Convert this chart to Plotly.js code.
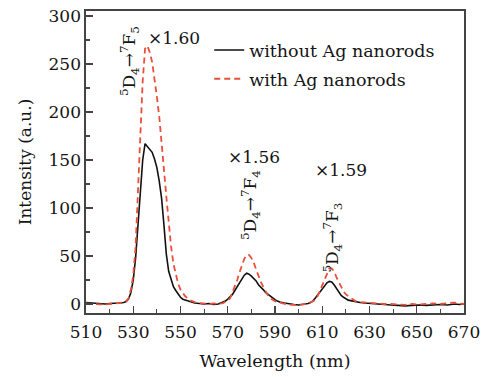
<!DOCTYPE html>
<html>
<head>
<meta charset="utf-8">
<script src="https://cdn.plot.ly/plotly-3.0.1.min.js"></script>
<style>html,body{margin:0;padding:0;background:#fff;}#chart{width:484px;height:377px;}</style>
</head>
<body>
<div id="chart"></div>
<script>
const wavelength = [510,512,514,516,518,520,522,524,526,
527,528,529,530,531,532,533,534,535,536,537,538,539,540,541,542,543,544,545,546,547,548,549,550,551,
552,554,556,558,560,562,564,566,568,
569,570,571,572,573,574,575,576,577,578,579,580,581,582,583,584,585,586,587,588,589,590,591,
592,594,596,598,600,602,604,
605,606,607,608,609,610,611,612,613,614,615,616,617,618,619,620,621,622,623,
624,626,628,630,
633,636,639,642,645,648,651,654,657,660,663,666,
668,670];

const withoutAg = [1.5,1,0.5,0.5,0,0.5,0.5,1,1.5,
2.5,5,12,25,48,82,118,150,167,164,161,158,151,142,128,110,82,52,34,25,18,14,10,7,5,
4,2.5,1,0.5,0,0.5,-0.5,0,1.5,
3,5,7,10,14,18,22,26,30,32,31,29,27,24,20,18,15,12,10,8,6,4.5,3,
2,1,0,-0.5,-1,-0.5,0.5,
1.5,3,6,9,12,16,19,22,23.5,23,20,16,12,9,7,5,4,3.5,3,
2,1.5,1,0.5,
0,-0.5,-1,-1.5,-2,-1.5,-1,-1.5,-1,-0.5,-1,0,
-0.5,0];

const withAg = [0.5,0,-0.5,-0.5,-0.5,0,0,0.5,1.5,
3,6,15,30,60,110,175,232,266,269,262,252,236,216,195,170,140,112,85,60,42,30,21,15,11,
8,4,2,1,0.5,0,0.5,0,1,
2,3.5,6,12,17,25,33,40,47,51,51,48,43,36,29,23,18,13,9,6,4,3,2,
1.5,0,-1,-1,-1,-0.5,0.5,
1.5,3,4,8,14,20,27,33,37,37,34,28,23,17,13,10,8,6,4.5,
3,2,1.5,1,
0.5,0,0,-0.5,-1,0,-0.5,0,0.5,0,1,1.5,
0.5,0];

const seriesNames = ['without Ag nanorods', 'with Ag nanorods'];
const xTickVals = [510,530,550,570,590,610,630,650,670];
const yTickVals = [0,50,100,150,200,250,300];

const FONT = 'DejaVu Serif, Liberation Serif, serif';
const INK = '#151515';

const traces = [
  {x: wavelength, y: withoutAg, name: seriesNames[0], type: 'scatter', mode: 'lines',
   line: {color: '#111', width: 1.6}, legendgroup: 'a'},
  {x: wavelength, y: withAg, name: seriesNames[1], type: 'scatter', mode: 'lines',
   line: {color: '#e8503a', width: 1.8, dash: '6px,4px'}, legendgroup: 'b'}
];

const annFont = {family: FONT, size: 17, color: INK};
const layout = {
  width: 484, height: 377,
  margin: {l: 86, r: 20, t: 11, b: 64},
  paper_bgcolor: '#fff', plot_bgcolor: '#fff',
  font: {family: FONT, size: 17, color: INK},
  showlegend: true,
  legend: {x: 0.326, y: 0.93, xanchor: 'left', yanchor: 'top', bgcolor: 'rgba(0,0,0,0)',
           font: {family: FONT, size: 17.5, color: INK}, traceorder: 'grouped', tracegroupgap: 3},
  xaxis: {
    range: [510, 670], tickvals: xTickVals, ticks: 'inside', ticklen: 7, tickwidth: 1.2, tickcolor: '#444',
    minor: {dtick: 10, tick0: 510, ticks: 'inside', ticklen: 4, tickcolor: '#444', tickwidth: 1.2},
    showline: true, linecolor: '#444', linewidth: 1.6, mirror: true, showgrid: false, zeroline: false,
    tickfont: {family: FONT, size: 17, color: INK}, ticklabelstandoff: 3,
    title: {text: 'Wavelength (nm)', font: {family: FONT, size: 17.5, color: INK}, standoff: 14}
  },
  yaxis: {
    range: [-9.4, 305.2], tickvals: yTickVals, ticks: 'inside', ticklen: 7, tickwidth: 1.2, tickcolor: '#444',
    minor: {dtick: 25, tick0: 0, ticks: 'inside', ticklen: 4, tickcolor: '#444', tickwidth: 1.2},
    showline: true, linecolor: '#444', linewidth: 1.6, mirror: true, showgrid: false, zeroline: false,
    tickfont: {family: FONT, size: 17, color: INK},
    title: {text: 'Intensity (a.u.)', font: {family: FONT, size: 17, color: INK}, standoff: 12}
  },
  annotations: [
    {x: 528.2, y: 253, xref: 'x', yref: 'y', text: '<sup>5</sup>D<sub>4</sub>→<sup>7</sup>F<sub>5</sub>', textangle: -90, showarrow: false, font: annFont},
    {x: 547.3, y: 277, xref: 'x', yref: 'y', text: '×1.60', showarrow: false, font: annFont},
    {x: 579.4, y: 103, xref: 'x', yref: 'y', text: '<sup>5</sup>D<sub>4</sub>→<sup>7</sup>F<sub>4</sub>', textangle: -90, showarrow: false, font: annFont},
    {x: 580.9, y: 153, xref: 'x', yref: 'y', text: '×1.56', showarrow: false, font: annFont},
    {x: 614.5, y: 69, xref: 'x', yref: 'y', text: '<sup>5</sup>D<sub>4</sub>→<sup>7</sup>F<sub>3</sub>', textangle: -90, showarrow: false, font: annFont},
    {x: 617.9, y: 140, xref: 'x', yref: 'y', text: '×1.59', showarrow: false, font: annFont}
  ]
};

Plotly.newPlot('chart', traces, layout, {displayModeBar: false, staticPlot: true});
</script>
</body>
</html>
